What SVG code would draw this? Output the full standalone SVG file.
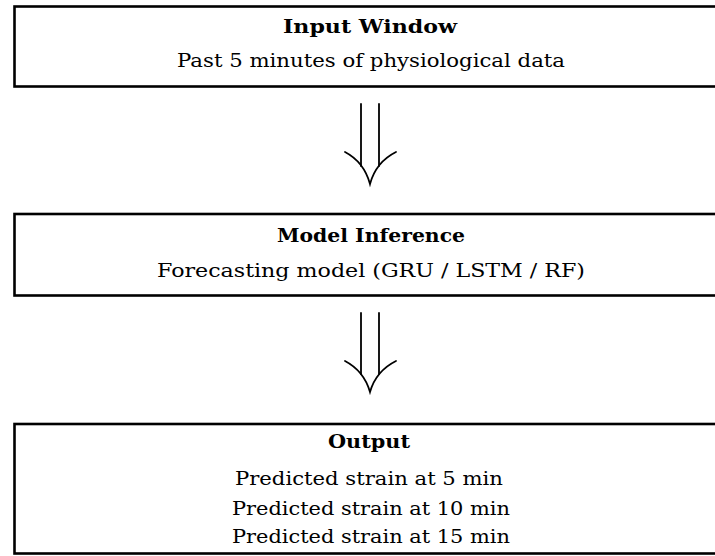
<svg xmlns="http://www.w3.org/2000/svg" width="715" height="556" viewBox="0 0 715 556">
<style>
.box{fill:#fff;stroke:#000;stroke-width:2.6}
.t{font-family:"DejaVu Serif","Liberation Serif",serif;font-size:18px;fill:#000;text-anchor:middle}
.b{font-weight:bold}
.arr{fill:none;stroke:#000;stroke-width:1.8;stroke-linecap:round}
</style>
<rect width="715" height="556" fill="#fff"/>
<g id="input-window">
<rect class="box" x="14.5" y="6.5" width="710" height="80"/>
<text class="t b" x="370" y="33" textLength="174" lengthAdjust="spacingAndGlyphs">Input Window</text>
<text class="t" x="371" y="67" textLength="388" lengthAdjust="spacingAndGlyphs">Past 5 minutes of physiological data</text>
</g>
<g id="model-inference">
<rect class="box" x="14.5" y="214" width="710" height="81.5"/>
<text class="t b" x="371" y="242" textLength="188" lengthAdjust="spacingAndGlyphs">Model Inference</text>
<text class="t" x="371" y="277" textLength="428" lengthAdjust="spacingAndGlyphs">Forecasting model (GRU / LSTM / RF)</text>
</g>
<g id="output">
<rect class="box" x="14.5" y="424" width="710" height="129.5"/>
<text class="t b" x="369" y="448" textLength="82" lengthAdjust="spacingAndGlyphs">Output</text>
<text class="t" x="369" y="485" textLength="268" lengthAdjust="spacingAndGlyphs">Predicted strain at 5 min</text>
<text class="t" x="371" y="515" textLength="278" lengthAdjust="spacingAndGlyphs">Predicted strain at 10 min</text>
<text class="t" x="371" y="543" textLength="278" lengthAdjust="spacingAndGlyphs">Predicted strain at 15 min</text>
</g>
<g id="connectors">
<g id="arrow1">
<path class="arr" d="M361,104 V166 M379,104 V166"/>
<path class="arr" d="M345,152 Q364,162 370,184 Q376,162 396,152"/>
</g>
<g id="arrow2">
<path class="arr" d="M361,313 V374 M379,313 V374"/>
<path class="arr" d="M345,361 Q364,371 370,392 Q376,371 396,361"/>
</g>
</g>
</svg>
